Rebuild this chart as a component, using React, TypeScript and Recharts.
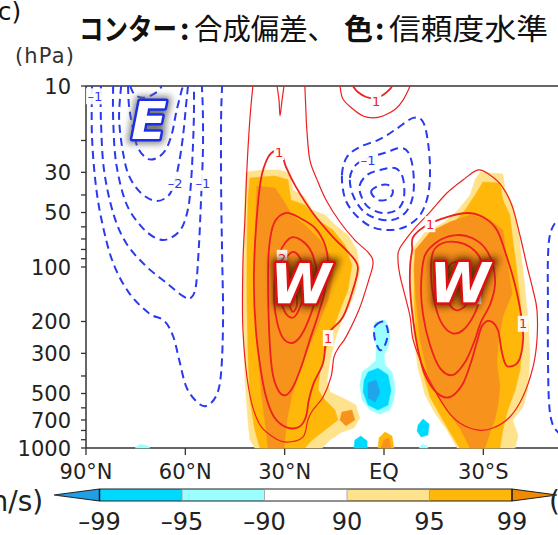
import React from "react";
import { ScatterChart, Scatter, XAxis, YAxis } from "recharts";

type Pt = [number, number]; // [latitude (+N / -S), pressure hPa]

const latTicks = [90, 60, 30, 0, -30];
const presTicks = [10, 20, 30, 40, 50, 60, 70, 80, 90, 100, 200, 300, 400, 500, 600, 700, 800, 900, 1000];
const presLabels = [10, 30, 50, 100, 200, 300, 500, 700, 1000];

// composite anomaly contours (m/s), negative = dashed
const eastM05: Pt[] = [[88.2, 10], [88.2, 18.9], [87.0, 35.7], [84.9, 59.4], [81.8, 95], [77.0, 139], [71.0, 180], [66.4, 198], [63.7, 241], [61.9, 323], [59.8, 455], [56.8, 550], [53.8, 586], [50.7, 516], [49.2, 385], [48.6, 193], [48.9, 84], [49.2, 35.7], [49.2, 15.2], [48.9, 10]];
const eastM10: Pt[] = [[85.5, 10], [85.5, 15.2], [84.6, 28.7], [81.8, 50.3], [77.9, 73.7], [71.9, 98.8], [65.8, 122], [60.7, 145], [58.3, 148], [56.8, 127], [55.9, 76.6], [55.3, 44.3], [54.7, 23.4], [54.7, 14.1], [55.0, 10]];
const eastM15: Pt[] = [[81.8, 10], [81.8, 15.2], [80.9, 26.6], [77.9, 44.3], [73.4, 59.4], [68.9, 69.2], [65.2, 70.1], [61.3, 61.7], [59.2, 47.8], [58.3, 34.3], [57.7, 21.5], [57.4, 14.1], [57.4, 10]];
const eastM20: Pt[] = [[79.4, 10], [80.0, 15.2], [78.8, 23.4], [77.0, 31.4], [73.4, 39.0], [68.9, 43.2], [65.2, 40.5], [63.4, 34.8], [61.9, 26.6], [60.7, 18.9], [59.8, 12.9], [59.2, 10]];
const eastM25: Pt[] = [[77.3, 10], [77.0, 12.9], [75.8, 17.3], [74.3, 22.0], [71.3, 25.3], [68.3, 24.8], [65.8, 22.3], [64.0, 18.2], [62.8, 14.1], [61.3, 10.9], [60.7, 10]];
const eastM30: Pt[] = [[76.7, 10], [75.2, 11.2], [72.2, 11.6], [68.6, 10.8], [67.1, 10]];

const westL05: Pt[] = [[39.6, 10], [40.5, 15.2], [41.4, 28.7], [42.0, 54.9], [42.6, 95.1], [42.6, 223], [40.8, 478], [37.8, 727], [33.5, 870], [29.6, 927], [24.5, 870], [23.0, 700], [21.5, 617], [18.4, 523], [16.0, 405], [15.1, 314], [13.6, 277], [11.5, 244], [7.6, 173], [4.6, 118], [3.3, 95.1], [4.6, 83.7], [8.8, 71.0], [13.3, 56.4], [17.5, 42.6], [20.2, 33.0], [22.4, 25.6], [23.3, 17.5], [23.6, 13.5], [23.9, 10]];
const westNotch: Pt[] = [[32.3, 10], [31.7, 12.0], [31.4, 14.6], [30.8, 12.0], [30.2, 10]];
const westL10: Pt[] = [[31.7, 23.2], [32.6, 22.6], [35.0, 24.7], [37.2, 33.0], [38.7, 62.5], [39.3, 118], [38.7, 223], [37.2, 371], [35.6, 523], [33.2, 674], [29.6, 766], [25.7, 766], [23.6, 674], [22.7, 543], [21.2, 437], [18.4, 339], [17.5, 253], [16.0, 223], [12.4, 189], [9.4, 134], [7.9, 100], [10.6, 83.7], [15.4, 68.3], [21.5, 50.3], [26.6, 36.1], [29.6, 28.0], [30.5, 24.7]];
const westL15: Pt[] = [[29.6, 50.3], [25.4, 53.6], [20.8, 60.9], [17.8, 75.6], [16.9, 97.5], [17.8, 134], [19.9, 184], [22.4, 253], [24.8, 348], [27.2, 449], [29.6, 510], [32.0, 478], [33.8, 371], [34.7, 223], [35.0, 118], [34.7, 77.6], [33.2, 57.2]];
const westL20: Pt[] = [[27.5, 68.3], [23.9, 73.7], [21.5, 86], [20.2, 111], [20.8, 152], [23.0, 201], [25.4, 244], [27.8, 263], [30.5, 247], [32.3, 201], [33.2, 152], [32.9, 111], [31.7, 86], [29.9, 73.7]];
const westL25: Pt[] = [[27.8, 82.7], [25.4, 89.2], [23.9, 111], [24.2, 143], [26.0, 177], [27.8, 191], [30.2, 173], [31.4, 134], [30.5, 97.5]];
const westL30: Pt[] = [[28.1, 134], [26.6, 140], [26.3, 162], [27.5, 177], [28.7, 158]];

const topR05: Pt[] = [[13.3, 10], [12.4, 11.8], [9.4, 13.4], [6.3, 14.65], [3.3, 15.0], [0.3, 14.65], [-3.3, 13.5], [-5.7, 12.0], [-7.9, 10]];
const topR10: Pt[] = [[9.4, 10], [7.9, 10.8], [5.4, 11.5], [2.7, 11.65], [0.3, 11.2], [-1.8, 10.4], [-2.4, 10]];

const westR05: Pt[] = [[-28.4, 29.1], [-23.9, 33.0], [-19.0, 39.0], [-13.9, 49.7], [-8.8, 62.5], [-4.8, 78.6], [-4.2, 89.2], [-4.8, 111], [-6.3, 143], [-7.9, 189], [-8.8, 253], [-11.8, 357], [-14.8, 460], [-19.0, 617], [-22.9, 728], [-28.1, 795], [-32.9, 776], [-38.0, 674], [-41.9, 523], [-45.0, 357], [-46.2, 253], [-46.2, 173], [-45.0, 134], [-43.2, 98.8], [-41.1, 67.4], [-38.7, 46.0], [-35.6, 35.7], [-32.0, 31.0]];
const westR10: Pt[] = [[-8.5, 80.6], [-8.8, 68.3], [-13.0, 58.6], [-19.0, 53.0], [-25.1, 50.3], [-29.9, 53.0], [-34.1, 62.5], [-37.1, 88.1], [-39.6, 126], [-41.4, 184], [-42.0, 253], [-40.5, 335], [-37.1, 352], [-35.6, 295], [-34.4, 223], [-32.0, 199], [-29.6, 212], [-27.8, 270], [-26.0, 348], [-23.6, 449], [-19.9, 523], [-16.0, 497], [-12.4, 395], [-10.3, 288], [-8.8, 196], [-7.9, 134], [-7.9, 97.5]];
const westR15: Pt[] = [[-12.4, 86], [-16.9, 71], [-22.1, 66.6], [-26.6, 69.2], [-30.5, 78.6], [-32.9, 97.5], [-33.5, 126], [-32.0, 162], [-29.3, 201], [-27.2, 260], [-24.5, 335], [-20.8, 395], [-16.9, 362], [-13.9, 270], [-11.8, 184], [-11.2, 126]];
const westR20: Pt[] = [[-14.8, 82.7], [-17.8, 73.7], [-22.1, 72.8], [-26.0, 77.6], [-29.0, 89.2], [-30.2, 114], [-29.3, 143], [-27.2, 184], [-23.9, 223], [-20.5, 232], [-17.2, 201], [-15.1, 152], [-14.2, 111]];
const westR25: Pt[] = [[-19.9, 97.5], [-23.6, 93.9], [-26.0, 107], [-26.6, 134], [-24.8, 162], [-21.7, 173], [-19.0, 152], [-18.1, 123]];

const eqM05: Pt[] = [[12.7, 31.0], [11.2, 24.7], [7.3, 21.7], [1.8, 19.9], [-3.3, 17.5], [-8.8, 15.0], [-11.8, 15.8], [-13.3, 20.6], [-13.9, 29.1], [-13.3, 40.0], [-10.9, 51.6], [-6.3, 60.1], [-0.9, 62.5], [4.2, 59.4], [8.8, 51.0], [11.8, 41.6]];
const eqM10: Pt[] = [[10.3, 32.2], [8.5, 27.3], [4.8, 25.0], [-0.3, 23.4], [-4.8, 22.0], [-7.3, 23.2], [-8.8, 29.1], [-8.8, 40.0], [-6.6, 49.7], [-2.4, 55.0], [2.7, 53.6], [6.6, 48.4], [9.4, 40.0]];
const eqM15: Pt[] = [[7.3, 35.2], [5.1, 31.0], [1.2, 29.1], [-3.3, 28.4], [-5.7, 32.2], [-6.0, 41.6], [-3.9, 48.4], [0.6, 50.3], [4.8, 46.6], [6.9, 40.5]];
const eqM20: Pt[] = [[3.9, 38.5], [1.8, 35.7], [-1.2, 35.2], [-2.7, 38.5], [-1.2, 42.1], [1.8, 42.6]];
const eqLow: Pt[] = [[2.4, 209], [0, 201], [-1.2, 229], [-0.3, 270], [1.2, 288], [2.7, 253], [3.0, 223]];
const southM05: Pt[] = [[-54.6, 51.6], [-51.9, 56.4], [-50.1, 66.6], [-49.5, 91.5], [-49.5, 152], [-49.5, 288], [-49.8, 543], [-50.7, 719], [-52.5, 816], [-54.6, 859]];

// confidence level areas (%)
const sig90L: Pt[] = [[41.7, 29.9], [36.8, 29.1], [31.4, 29.1], [28.4, 30.6], [27.5, 37.6], [23.9, 41.1], [21.7, 48.4], [17.8, 51.6], [14.8, 58.6], [10.9, 66.6], [8.2, 80.6], [7.3, 104], [8.5, 134], [10.3, 162], [12.7, 196], [14.8, 253], [16.3, 327], [17.2, 421], [16.3, 491], [12.4, 530], [8.5, 579], [7.3, 683], [9.1, 776], [12.7, 816], [16.3, 903], [18.7, 1000], [39.0, 1000], [40.5, 903], [41.1, 700], [42.0, 421], [42.3, 223], [42.6, 118], [42.3, 62.5], [42.0, 37.6]];
const sig95L: Pt[] = [[40.5, 32.2], [32.9, 31.4], [29.0, 33.0], [28.1, 42.6], [23.9, 45.5], [19.9, 55.0], [15.4, 62.5], [11.8, 75.6], [9.7, 97.5], [10.9, 134], [13.3, 173], [15.4, 223], [17.5, 288], [19.3, 371], [19.9, 478], [17.8, 543], [14.8, 617], [13.9, 700], [17.8, 795], [21.7, 903], [23.9, 1000], [37.5, 1000], [39.0, 795], [40.5, 543], [41.1, 288], [41.4, 152], [41.4, 80.6], [41.1, 42.6]];
const sig99L: Pt[] = [[38.4, 35.7], [32.9, 36.6], [30.5, 42.6], [27.8, 51.6], [23.9, 58.6], [19.3, 71], [16.3, 86], [15.4, 111], [16.9, 152], [19.3, 196], [22.4, 270], [25.4, 371], [27.8, 510], [29.3, 700], [30.2, 1000], [35.0, 1000], [35.6, 795], [36.8, 543], [38.0, 327], [38.7, 196], [39.0, 118], [39.0, 71], [38.7, 48.4]];
const sig99Blob: Pt[] = [[12.7, 633], [9.7, 617], [8.8, 700], [11.5, 756], [13.3, 700]];
const sig95Eq: Pt[] = [[1.8, 1000], [1.5, 881], [-0.3, 816], [-2.4, 859], [-3.0, 1000]];
const sig99Eq: Pt[] = [[0.9, 1000], [0, 903], [-1.5, 881], [-2.1, 1000]];
const sig90R: Pt[] = [[-29.0, 29.9], [-35.9, 30.6], [-36.5, 36.6], [-38.9, 45.5], [-40.5, 60.9], [-41.4, 86], [-42.3, 118], [-43.5, 196], [-44.1, 306], [-43.5, 466], [-42.0, 594], [-38.9, 700], [-40.5, 859], [-39.6, 1000], [-22.1, 1000], [-19.0, 795], [-15.4, 641], [-12.4, 510], [-10.3, 362], [-8.8, 238], [-8.2, 152], [-7.9, 93.9], [-8.8, 78.6], [-12.4, 64.1], [-18.4, 56.4], [-22.4, 48.4], [-26.0, 40.0], [-27.5, 33.0]];
const sig95R: Pt[] = [[-29.9, 33.9], [-35.0, 34.3], [-35.9, 42.6], [-38.0, 51.6], [-38.9, 71], [-39.9, 97.5], [-41.1, 152], [-41.7, 253], [-41.1, 371], [-39.6, 478], [-37.4, 617], [-35.9, 795], [-35.0, 1000], [-22.9, 1000], [-19.9, 816], [-16.9, 657], [-13.9, 523], [-11.5, 371], [-9.7, 238], [-9.1, 152], [-9.1, 97.5], [-10.9, 75.6], [-16.0, 66.6], [-20.5, 58.6], [-24.5, 48.4], [-27.5, 40.0]];
const sig99R: Pt[] = [[-9.4, 80.6], [-13.9, 64.1], [-19.9, 56.4], [-26.0, 51.6], [-32.0, 55.0], [-35.9, 62.5], [-37.1, 90.3], [-38.7, 140], [-35.9, 187], [-34.4, 273], [-34.1, 339], [-35.0, 455], [-34.4, 586], [-33.5, 691], [-32.0, 826], [-30.5, 1000], [-26.0, 1000], [-22.9, 776], [-19.3, 633], [-16.3, 530], [-13.3, 395], [-10.9, 253], [-9.7, 152], [-9.1, 104]];
const neg90Eq: Pt[] = [[2.7, 201], [-0.3, 196], [-1.8, 223], [-1.5, 270], [0, 306], [-0.3, 348], [-2.4, 380], [-3.3, 449], [-3.0, 543], [-1.8, 617], [1.2, 650], [4.2, 617], [6.6, 543], [7.3, 449], [6.6, 380], [4.2, 352], [2.4, 327], [2.4, 270], [3.3, 238]];
const neg95Eq: Pt[] = [[4.8, 380], [1.8, 362], [-1.2, 395], [-2.1, 478], [-1.2, 579], [1.8, 617], [4.8, 579], [6.3, 491], [6.0, 421]];
const neg99Eq: Pt[] = [[4.8, 437], [2.4, 421], [1.2, 491], [2.7, 557], [4.8, 530]];
const neg95Low: Pt[] = [[9.1, 1000], [8.8, 903], [7.0, 859], [5.1, 915], [5.1, 1000]];
const neg95South: Pt[] = [[-10.3, 746], [-11.8, 691], [-13.6, 737], [-13.3, 848], [-11.2, 870], [-10.0, 806]];
const neg90South: Pt[] = [[-10.6, 1000], [-11.5, 952], [-13.0, 975], [-13.3, 1000]];
const neg90Arctic: Pt[] = [[75.2, 1000], [73.7, 952], [71.3, 975], [70.7, 1000]];

// contour labels
const tagLat = [87.3, 63.1, 54.7, 4.8, 31.7, 16.9, 30.8, 2.4, -13.9, -42.0, -27.8];
const tagPres = [11.4, 34.3, 34.3, 25.6, 23.2, 247, 89, 12.2, 58, 206, 145];
const tagValue = [-1, -2, -1, -1, 1, 1, 2, 1, 1, 1, 2];

const windLetters = ["E", "W", "W"];
const windLat = [71.0, 25.1, -22.9];
const windPres = [15.4, 123, 121];

const confLabels = ["–99", "–95", "–90", "90", "95", "99"];
const confColors = ["#00d9ff", "#9bffff", "#ffffff", "#ffe38c", "#ffb70a"];

const RED = "#ee2020";
const BLUE = "#2a3aee";
const FONT = "'DejaVu Sans', sans-serif";

const rows = (pts: Pt[]) => pts.map(([lat, p]) => ({ lat, p }));

const contours = [
  { pts: eastM05, tone: BLUE, dashed: true, closed: false },
  { pts: eastM10, tone: BLUE, dashed: true, closed: false },
  { pts: eastM15, tone: BLUE, dashed: true, closed: false },
  { pts: eastM20, tone: BLUE, dashed: true, closed: false },
  { pts: eastM25, tone: BLUE, dashed: true, closed: false },
  { pts: eastM30, tone: BLUE, dashed: true, closed: false },
  { pts: eqM05, tone: BLUE, dashed: true, closed: true },
  { pts: eqM10, tone: BLUE, dashed: true, closed: true },
  { pts: eqM15, tone: BLUE, dashed: true, closed: true },
  { pts: eqM20, tone: BLUE, dashed: true, closed: true },
  { pts: eqLow, tone: BLUE, dashed: true, closed: true },
  { pts: southM05, tone: BLUE, dashed: true, closed: false },
  { pts: westL05, tone: RED, thin: true, closed: false },
  { pts: westNotch, tone: RED, thin: true, closed: false },
  { pts: westL10, tone: RED, closed: true },
  { pts: westL15, tone: RED, closed: true },
  { pts: westL20, tone: RED, closed: true },
  { pts: westL25, tone: RED, closed: true },
  { pts: westL30, tone: RED, closed: true },
  { pts: topR05, tone: RED, thin: true, closed: false },
  { pts: topR10, tone: RED, closed: false },
  { pts: westR05, tone: RED, thin: true, closed: true },
  { pts: westR10, tone: RED, closed: true },
  { pts: westR15, tone: RED, closed: true },
  { pts: westR20, tone: RED, closed: true },
  { pts: westR25, tone: RED, closed: true },
];

const DARK = "#f7921c";
const shades = [
  { pts: sig90L, tint: confColors[3] },
  { pts: sig90R, tint: confColors[3] },
  { pts: sig95L, tint: confColors[4] },
  { pts: sig95R, tint: confColors[4] },
  { pts: sig95Eq, tint: confColors[4] },
  { pts: sig99L, tint: DARK },
  { pts: sig99R, tint: DARK },
  { pts: sig99Blob, tint: DARK },
  { pts: sig99Eq, tint: DARK },
  { pts: neg90Eq, tint: confColors[1] },
  { pts: neg90South, tint: confColors[1] },
  { pts: neg90Arctic, tint: confColors[1] },
  { pts: neg95Eq, tint: confColors[0] },
  { pts: neg95Low, tint: confColors[0] },
  { pts: neg95South, tint: confColors[0] },
  { pts: neg99Eq, tint: "#20a4ea" },
];

const tags = tagLat.map((lat, i) => ({ lat, p: tagPres[i], value: tagValue[i] }));
const letters = windLetters.map((text, i) => ({ lat: windLat[i], p: windPres[i], text, id: i }));

function xy(pt: any) {
  return { x: pt.x ?? pt.cx, y: pt.y ?? pt.cy };
}

function curvePath(raw: any[], closed: boolean) {
  let list = raw.map(xy);
  if (closed && list.length > 2) {
    const a = list[0];
    const b = list[list.length - 1];
    if (Math.abs(a.x - b.x) < 0.5 && Math.abs(a.y - b.y) < 0.5) list = list.slice(0, -1);
  }
  const n = list.length;
  if (n < 2) return "";
  const at = (i: number) => (closed ? list[(i + n) % n] : list[Math.min(n - 1, Math.max(0, i))]);
  let d = `M${list[0].x},${list[0].y}`;
  const segs = closed ? n : n - 1;
  for (let i = 0; i < segs; i++) {
    const p0 = at(i - 1), p1 = at(i), p2 = at(i + 1), p3 = at(i + 2);
    const c1x = p1.x + (p2.x - p0.x) / 6;
    const c1y = p1.y + (p2.y - p0.y) / 6;
    const c2x = p2.x - (p3.x - p1.x) / 6;
    const c2y = p2.y - (p3.y - p1.y) / 6;
    d += ` C${c1x},${c1y} ${c2x},${c2y} ${p2.x},${p2.y}`;
  }
  return closed ? d + " Z" : d;
}

function ContourLine(props: any) {
  const pts = props.points || [];
  return (
    <path
      d={curvePath(pts, props.closed)}
      fill="none"
      stroke={props.tone}
      strokeWidth={props.weight}
      strokeDasharray={props.dashed ? "8 5" : undefined}
      strokeLinejoin="round"
    />
  );
}

function ShadeArea(props: any) {
  const pts = (props.points || []).map(xy);
  return <polygon points={pts.map((p: any) => `${p.x},${p.y}`).join(" ")} fill={props.tint} stroke={props.tint} strokeWidth={0.5} />;
}

const hidden = () => <g />;

function ContourTag(props: any) {
  const { cx, cy } = props;
  const v = (props.payload ?? props).value;
  const text = v < 0 ? `–${Math.abs(v)}` : String(v);
  const w = text.length * 7.5 + 3;
  return (
    <g>
      <rect x={cx - w / 2} y={cy - 8} width={w} height={16} fill="#fff" fillOpacity={0.92} />
      <text x={cx} y={cy} dy="0.36em" textAnchor="middle" fontSize={13} fontFamily={FONT} fill={v < 0 ? BLUE : RED}>
        {text}
      </text>
    </g>
  );
}

function WindLetter(props: any) {
  const { cx, cy } = props;
  const d = props.payload ?? props;
  const east = d.text === "E";
  const id = `glow${d.id}`;
  const size = east ? 52 : 55;
  const common = {
    x: cx,
    y: cy,
    dy: "0.36em",
    textAnchor: "middle" as const,
    fontFamily: FONT,
    fontWeight: "bold" as const,
    fontStyle: "italic" as const,
    fontSize: size,
  };
  return (
    <g>
      <defs>
        <filter id={id} x="-60%" y="-60%" width="220%" height="220%">
          <feGaussianBlur stdDeviation="3.5" />
        </filter>
      </defs>
      <text {...common} fill={east ? "#666" : "#4a1a00"} stroke={east ? "#666" : "#4a1a00"} strokeWidth={9} filter={`url(#${id})`} opacity={0.85}>
        {d.text}
      </text>
      <text {...common} fill="#fff" stroke={east ? "#1c2ee6" : "#e01010"} strokeWidth={5} strokeLinejoin="round" paintOrder="stroke">
        {d.text}
      </text>
    </g>
  );
}

const latName = (v: number) => (v === 0 ? "EQ" : `${Math.abs(v)}°${v > 0 ? "N" : "S"}`);

function LatTick(props: any) {
  const { x, y, payload } = props;
  return (
    <text x={x} y={y + 15} textAnchor="middle" fontSize={21} fontFamily={FONT} fill="#222">
      {latName(payload.value)}
    </text>
  );
}

function PresTick(props: any) {
  const { x, y, payload } = props;
  if (!presLabels.includes(payload.value)) return <g />;
  return (
    <text x={x} y={y} dy="0.36em" textAnchor="end" fontSize={21} fontFamily={FONT} fill="#222">
      {payload.value}
    </text>
  );
}

function ColorBar() {
  const x0 = 99.5;
  const step = 82.5;
  const top = 489;
  const bot = 501;
  const mid = (top + bot) / 2;
  const xEnd = x0 + step * (confLabels.length - 1);
  return (
    <g>
      <polygon points={`${x0},${top} ${x0},${bot} 54,${mid}`} fill="#1e9fe6" />
      {confColors.map((c, i) => (
        <rect key={i} x={x0 + i * step} y={top} width={step} height={bot - top} fill={c} />
      ))}
      <polygon points={`${xEnd},${top} ${xEnd},${bot} 557,${mid}`} fill="#f08a00" />
      <polygon
        points={`54,${mid} ${x0},${top} ${xEnd},${top} 557,${mid} ${xEnd},${bot} ${x0},${bot}`}
        fill="none"
        stroke="#222"
        strokeWidth={1.2}
      />
      {confLabels.map((t, i) => {
        const x = x0 + i * step;
        const edge = i === 0 || i === confLabels.length - 1;
        return (
          <g key={t}>
            <line x1={x} x2={x} y1={top} y2={bot} stroke={edge ? "#111" : "#999"} strokeWidth={edge ? 1.5 : 0.8} />
            <text x={x} y={530} textAnchor="middle" fontSize={24} fontFamily={FONT} fill="#222">
              {t}
            </text>
          </g>
        );
      })}
    </g>
  );
}

export default function App() {
  return (
    <div style={{ position: "absolute", left: 0, top: 0, width: 558, height: 535, overflow: "hidden", background: "#fff" }}>
      <ScatterChart width={700} height={535} margin={{ top: 85, right: 18, bottom: 0, left: 0 }}>
        {shades.map((s, i) => (
          <Scatter
            key={`s${i}`}
            data={rows(s.pts)}
            shape={hidden}
            line={<ShadeArea tint={s.tint} />}
            isAnimationActive={false}
            legendType="none"
          />
        ))}
        {contours.map((c, i) => (
          <Scatter
            key={`c${i}`}
            data={rows(c.pts)}
            shape={hidden}
            line={<ContourLine tone={c.tone} dashed={!!c.dashed} closed={c.closed} weight={c.thin ? 1.2 : c.dashed ? 2 : 1.8} />}
            isAnimationActive={false}
            legendType="none"
          />
        ))}
        <Scatter data={tags} shape={(p: any) => <ContourTag {...p} />} isAnimationActive={false} legendType="none" />
        <Scatter data={letters} shape={(p: any) => <WindLetter {...p} />} isAnimationActive={false} legendType="none" />
        <XAxis
          xAxisId={0}
          type="number"
          dataKey="lat"
          domain={[-90, 90]}
          reversed
          ticks={latTicks}
          interval={0}
          height={87}
          tickSize={7}
          tickMargin={9}
          tick={<LatTick />}
          axisLine={{ stroke: "#333", strokeWidth: 1.5 }}
          tickLine={{ stroke: "#333", strokeWidth: 1.3 }}
        />
        <XAxis
          xAxisId="top"
          orientation="top"
          type="number"
          dataKey="lat"
          domain={[-90, 90]}
          reversed
          ticks={latTicks}
          interval={0}
          height={1}
          tickSize={7}
          tickFormatter={() => ""}
          axisLine={{ stroke: "#333", strokeWidth: 1.5 }}
          tickLine={{ stroke: "#333", strokeWidth: 1.3 }}
        />
        <YAxis
          type="number"
          dataKey="p"
          scale="log"
          domain={[10, 1000]}
          reversed
          ticks={presTicks}
          interval={0}
          width={86}
          tickSize={5}
          tickMargin={10}
          tick={<PresTick />}
          axisLine={{ stroke: "#333", strokeWidth: 1.5 }}
          tickLine={{ stroke: "#333", strokeWidth: 1.3 }}
        />
      </ScatterChart>
      <svg width={558} height={535} style={{ position: "absolute", left: 0, top: 0, pointerEvents: "none" }}>
        <text x={-12} y={20} fontSize={25} fontFamily={FONT} fill="#111">(c)</text>
        <g fontFamily="'Noto Sans CJK JP', sans-serif" fontSize={29} fill="#111">
          <text x={79} y={40} fontWeight="bold" textLength={98} lengthAdjust="spacingAndGlyphs">コンター</text>
          <text x={180} y={40} fontWeight="bold">:</text>
          <text x={194} y={40} textLength={142} lengthAdjust="spacingAndGlyphs">合成偏差、</text>
          <text x={344} y={40} fontWeight="bold">色</text>
          <text x={375} y={40} fontWeight="bold">:</text>
          <text x={389} y={40} textLength={159} lengthAdjust="spacingAndGlyphs">信頼度水準</text>
        </g>
        <text x={15} y={63} fontSize={21} fontFamily={FONT} fill="#333" textLength={59}>(hPa)</text>
        <text x={-30} y={511} fontSize={28} fontFamily={FONT} fill="#222">(m/s)</text>
        <text x={549} y={511} fontSize={28} fontFamily={FONT} fill="#222">(%)</text>
        <ColorBar />
      </svg>
    </div>
  );
}
